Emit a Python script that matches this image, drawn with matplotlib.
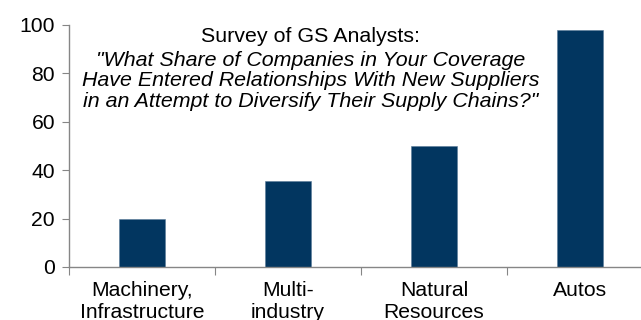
import matplotlib.pyplot as plt
import numpy as np

plt.rcParams['font.family'] = ['Liberation Sans', 'DejaVu Sans']

categories = ['Machinery,\nInfrastructure', 'Multi-\nindustry', 'Natural\nResources', 'Autos']
shares = [20, 35.5, 50, 98]

bar_color = '#023660'
axis_color = '#868686'

fig = plt.figure(figsize=(6.41, 3.2), dpi=100)
# axes run past the right edge of the figure, the last category is cut off
ax = fig.add_axes([69 / 641, 53 / 320, 584 / 641, 242 / 320])

x = np.arange(len(categories))
ax.bar(x, shares, width=0.31, color=bar_color, edgecolor='#5a7a99', linewidth=0.4, zorder=2)

ax.set_xlim(-0.5, len(categories) - 0.5)
ax.set_ylim(0, 100)
ax.set_yticks([0, 20, 40, 60, 80, 100])
ax.set_xticks(np.arange(len(categories) + 1) - 0.5)
ax.set_xticklabels([])
ax.set_xticks(x, minor=True)
ax.set_xticklabels(categories, minor=True, fontsize=15.2, linespacing=1.2)
ax.tick_params(axis='x', which='minor', length=0, pad=10)
ax.tick_params(axis='x', which='major', direction='out', length=6, color=axis_color)
ax.tick_params(axis='y', direction='out', length=5, color=axis_color, labelsize=15.2, pad=5)

for side in ['top', 'right']:
    ax.spines[side].set_visible(False)
for side in ['left', 'bottom']:
    ax.spines[side].set_color(axis_color)
    ax.spines[side].set_linewidth(1.0)

fig.text(310 / 641, 1 - 36 / 320, 'Survey of GS Analysts:', ha='center', va='center', fontsize=15.4)
question = ('"What Share of Companies in Your Coverage\n'
            'Have Entered Relationships With New Suppliers\n'
            'in an Attempt to Diversify Their Supply Chains?"')
fig.text(311 / 641, 1 - 81 / 320, question, ha='center', va='center', fontsize=15.4,
         style='italic', linespacing=1.1)

fig.savefig('out.png', dpi=100)
